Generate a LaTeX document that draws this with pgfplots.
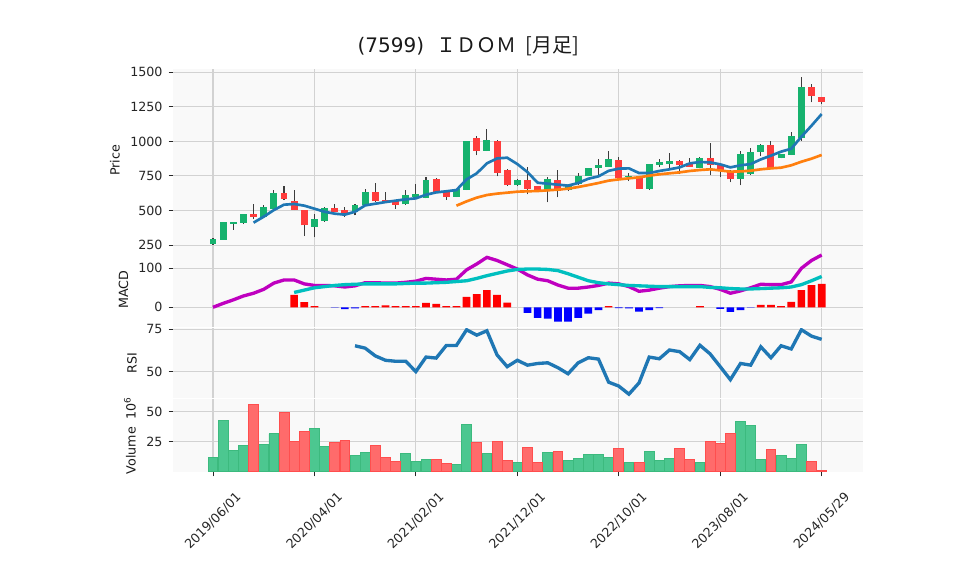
\documentclass[border=0pt]{standalone}
\usepackage{pgfplots}
\pgfplotsset{compat=1.18}
\usepackage{pgfplotstable}
\usepackage{fontspec}
\setmainfont{DejaVu Sans}
\newfontfamily\jp{Noto Sans CJK JP}

\definecolor{bgc}{RGB}{249,249,249}
\definecolor{gridc}{RGB}{210,210,210}
\definecolor{upc}{RGB}{22,178,110}
\definecolor{dnc}{RGB}{255,60,60}
\definecolor{wickc}{RGB}{60,60,60}
\definecolor{volg}{RGB}{76,199,144}
\definecolor{volgd}{RGB}{60,186,126}
\definecolor{volr}{RGB}{255,107,107}
\definecolor{volrd}{RGB}{255,78,78}
\definecolor{mablue}{RGB}{31,119,180}
\definecolor{maorange}{RGB}{255,127,14}
\definecolor{macdc}{RGB}{191,0,191}
\definecolor{sigc}{RGB}{0,191,191}

\pgfplotstableread{
i o h l c v
0 258 298 252 293 11.4
1 289 418 287 414 42.2
2 405 419 360 417 17.2
3 412 478 402 474 21.4
4 474 547 436 455 55.6
5 455 537 452 525 22.2
6 513 648 510 626 31.4
7 626 675 576 585 48.9
8 566 648 503 506 24.7
9 503 506 315 392 33.1
10 383 474 306 438 35.6
11 426 525 419 518 20.6
12 516 544 488 491 23.9
13 503 523 453 484 25.6
14 487 545 465 540 13.1
15 537 653 533 634 15.6
16 634 699 563 566 21.4
17 573 631 553 556 11.4
18 568 571 511 542 8.1
19 544 646 540 612 14.7
20 600 689 597 619 8.1
21 593 745 588 721 9.7
22 728 732 633 636 9.7
23 631 634 576 600 6.4
24 600 657 597 653 5.6
25 651 1006 648 1003 38.9
26 1022 1039 899 933 23.9
27 933 1087 930 1010 14.7
28 1005 1008 747 774 24.7
29 795 800 680 684 8.9
30 684 725 680 721 7.2
31 721 812 617 658 20.3
32 677 680 646 650 7.2
33 655 740 559 730 15.6
34 721 793 595 643 16.4
35 651 682 640 679 8.9
36 689 769 685 750 10.6
37 752 808 748 805 13.9
38 810 870 757 827 13.9
39 817 931 813 873 11.4
40 865 890 733 737 19.4
41 740 774 713 750 7.2
42 747 750 655 658 7.2
43 658 840 648 836 16.4
44 832 875 812 851 8.9
45 839 914 803 858 10.6
46 858 862 764 829 19.4
47 841 882 814 817 9.7
48 810 884 806 880 7.2
49 880 986 754 832 24.7
50 832 835 740 788 23.1
51 786 790 704 725 31.4
52 730 931 682 906 41.4
53 764 952 760 923 38.1
54 926 978 891 974 9.7
55 972 1000 805 807 18.1
56 882 910 877 906 13.1
57 904 1068 900 1039 10.6
58 1027 1464 1003 1394 22.2
59 1394 1413 1283 1331 8.1
60 1319 1322 1268 1288 0.8
}\ohlc

\pgfplotstableread{
i v
4 412
5 455
6 503
7 542
8 547
9 535
10 513
11 491
12 477
13 470
14 491
15 537
16 549
17 561
18 571
19 581
20 588
21 614
22 631
23 639
24 648
25 725
26 769
27 841
28 877
29 882
30 836
31 778
32 701
33 694
34 687
35 680
36 699
37 730
38 747
39 787
40 803
41 805
42 771
43 771
44 786
45 798
46 812
47 841
48 851
49 848
50 834
51 812
52 827
53 836
54 870
55 897
56 926
57 947
58 1034
59 1114
60 1198
}\mafive

\pgfplotstableread{
i v
24 535
25 566
26 593
27 612
28 622
29 629
30 636
31 639
32 641
33 646
34 651
35 658
36 670
37 684
38 699
39 716
40 725
41 733
42 740
43 752
44 762
45 769
46 776
47 786
48 793
49 798
50 790
51 781
52 783
53 788
54 798
55 805
56 810
57 827
58 853
59 875
60 902
}\matwentyfive

\pgfplotstableread{
i m
0 0
1 10
2 19
3 29
4 36
5 46
6 62
7 70
8 70
9 60
10 56
11 56
12 55
13 52
14 55
15 63
16 63
17 62
18 62
19 64
20 67
21 74
22 72
23 70
24 72
25 96
26 111
27 128
28 120
29 109
30 98
31 83
32 72
33 68
34 57
35 49
36 49
37 52
38 56
39 62
40 60
41 53
42 41
43 44
44 49
45 53
46 55
47 56
48 56
49 53
50 46
51 36
52 42
53 50
54 59
55 58
56 58
57 65
58 100
59 120
60 134
}\macdline

\pgfplotstableread{
i s h
8 38 32
9 44 13
10 50 3
11 53 0
12 56 -1
13 58 -5
14 59 -3
15 60 3
16 60 3
17 60 5
18 60 3
19 61 3
20 62 3
21 62 11
22 63 9
23 64 3
24 66 3
25 68 27
26 74 34
27 81 44
28 87 32
29 93 12
30 97 0
31 98 -14
32 98 -27
33 97 -29
34 94 -37
35 86 -37
36 77 -27
37 68 -16
38 63 -7
39 60 3
40 58 -2
41 56 -3
42 55 -11
43 54 -7
44 53 -2
45 53 0
46 53 0
47 53 0
48 53 3
49 51 0
50 50 -4
51 48 -12
52 47 -7
53 47 -1
54 48 6
55 49 6
56 50 3
57 52 14
58 58 44
59 68 57
60 79 60
}\signal

\pgfplotstableread{
i r
14 65.3
15 63.9
16 59.3
17 56.7
18 56.1
19 56.1
20 50.0
21 58.6
22 58.0
23 65.5
24 65.5
25 74.8
26 71.6
27 74.2
28 59.9
29 52.9
30 56.7
31 53.8
32 54.8
33 55.2
34 52.3
35 48.7
36 55.2
37 58.2
38 57.4
39 43.7
40 41.4
41 36.6
42 43.3
43 58.6
44 57.6
45 62.8
46 61.8
47 57.1
48 65.6
49 60.5
50 52.9
51 45.2
52 54.8
53 53.8
54 64.7
55 58.2
56 65.3
57 63.4
58 74.8
59 71.0
60 69.1
}\rsi

\pgfplotsset{
  panel/.style={
    scale only axis, width=517.7pt,
    xmin=-3.94, xmax=64.1,
    axis background/.style={fill=bgc},
    grid=major, major grid style={draw=gridc, line width=0.8pt},
    axis line style={draw=none},
    tick align=outside, tick pos=left,
    major tick length=3.3pt,
    every tick/.style={draw=black!85, line width=0.7pt},
    xtick={0,10,...,60},
    ticklabel style={font=\fontsize{9.5}{11}\selectfont, text=black!85},
    yticklabel style={xshift=-1pt},
    ylabel style={at={(axis description cs:0,0.5)}, anchor=center,
      font=\fontsize{9.5}{11}\selectfont, text=black!90},
    /pgf/number format/1000 sep={},
    /pgf/number format/assume math mode=true,
  },
  upper/.style={xticklabels={}, xtick style={draw=none}},
  candle/.style={draw=none, mark=none, forget plot,
    error bars/y dir=plus, error bars/y explicit, error bars/error mark=none},
}

\begin{document}
\begin{tikzpicture}
\path[use as bounding box] (0,0) rectangle (718.5pt,431.25pt);

\node[font=\fontsize{15}{18}\selectfont, anchor=base, text=black!90] at (351.4pt,392pt) {(7599)\ \ {\jp ＩＤＯＭ\ \ [月足]}};

% Price panel
\begin{axis}[panel, upper, at={(129.75pt,242.6pt)}, anchor=south west,
  height=136.65pt, ymin=203, ymax=1521.7, ytick={250,500,750,1000,1250,1500},
  ylabel={Price}, ylabel style={yshift=43.5pt}]
\addplot[candle, error bars/error bar style={draw=wickc, line width=0.8pt}]
  table[x=i, y=l, y error plus expr=\thisrow{h}-\thisrow{l}] {\ohlc};
\addplot[candle, restrict expr to domain={\thisrow{c}-\thisrow{o}}{0:10000},
  error bars/error bar style={draw=upc, line width=5.2pt}]
  table[x=i, y=o, y error plus expr=\thisrow{c}-\thisrow{o}] {\ohlc};
\addplot[candle, restrict expr to domain={\thisrow{o}-\thisrow{c}}{0.001:10000},
  error bars/error bar style={draw=dnc, line width=5.2pt}]
  table[x=i, y=c, y error plus expr=\thisrow{o}-\thisrow{c}] {\ohlc};
\addplot[mablue, line width=2pt, mark=none] table[x=i, y=v] {\mafive};
\addplot[maorange, line width=2pt, mark=none] table[x=i, y=v] {\matwentyfive};
\end{axis}

% MACD panel
\begin{axis}[panel, upper, at={(129.75pt,186pt)}, anchor=south west,
  height=55.9pt, ymin=-50.5, ymax=140.5, ytick={0,100},
  ylabel={MACD}, ylabel style={yshift=37.1pt}]
\addplot[ybar, bar width=0.76, bar shift=0pt, fill=red, draw=none,
  restrict expr to domain={\thisrow{h}}{0.01:1000}] table[x=i, y=h] {\signal};
\addplot[ybar, bar width=0.76, bar shift=0pt, fill=blue, draw=none,
  restrict expr to domain={\thisrow{h}}{-1000:-0.01}] table[x=i, y=h] {\signal};
\addplot[macdc, line width=2.5pt, mark=none] table[x=i, y=m] {\macdline};
\addplot[sigc, line width=2.5pt, mark=none] table[x=i, y=s] {\signal};
\end{axis}

% RSI panel
\begin{axis}[panel, upper, at={(129.75pt,133.1pt)}, anchor=south west,
  height=52.1pt, ymin=34.6, ymax=75.8, ytick={50,75},
  ylabel={RSI}, ylabel style={yshift=30.75pt}]
\addplot[mablue, line width=2.5pt, mark=none] table[x=i, y=r] {\rsi};
\end{axis}

% Volume panel
\begin{axis}[panel, at={(129.75pt,77.25pt)}, anchor=south west,
  height=54.75pt, ymin=-0.4, ymax=60.4, ytick={25,50},
  ylabel={Volume\ \ 10\textsuperscript{6}}, ylabel style={yshift=32.25pt},
  xticklabels={2019/06/01,2020/04/01,2021/02/01,2021/12/01,2022/10/01,2023/08/01,2024/05/29},
  xticklabel style={rotate=45, anchor=center, xshift=-23.7pt, yshift=-23.7pt}]
\addplot[ybar, bar width=0.97, bar shift=0pt, fill=volg, draw=volgd, line width=0.6pt,
  restrict expr to domain={\thisrow{c}-\thisrow{o}}{0:10000}] table[x=i, y=v] {\ohlc};
\addplot[ybar, bar width=0.97, bar shift=0pt, fill=volr, draw=volrd, line width=0.6pt,
  restrict expr to domain={\thisrow{o}-\thisrow{c}}{0.001:10000}] table[x=i, y=v] {\ohlc};
\end{axis}
\end{tikzpicture}
\end{document}
